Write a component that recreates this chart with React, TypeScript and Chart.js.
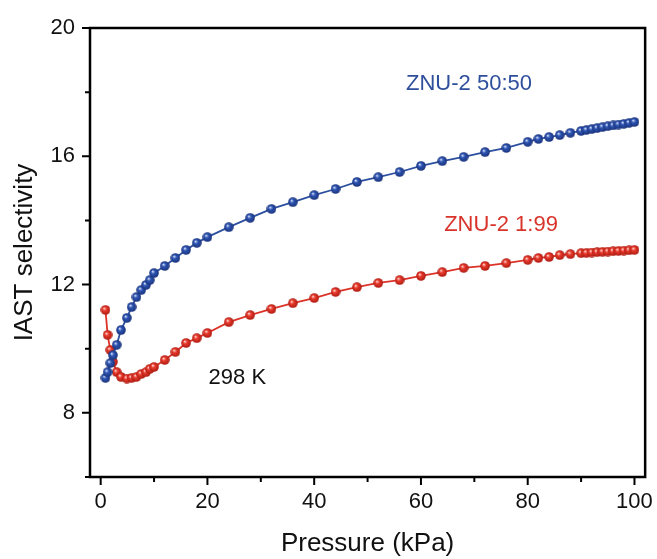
import React, { useEffect, useRef } from 'react';
import { Chart, registerables } from 'chart.js';

Chart.register(...registerables);

// ---- Data ----
const pressure = [
  0.9, 1.3, 1.8, 2.3, 3.0, 3.8, 4.9, 5.8, 6.7, 7.6, 8.5, 9.2, 10,
  12, 14, 16, 18, 20, 24, 28, 32, 36, 40, 44, 48, 52, 56, 60, 64, 68, 72, 76, 80,
  82, 84, 86, 88, 90, 91, 92, 93, 94, 95, 96, 97, 98, 99, 100,
];

const selectivity5050 = [
  9.09, 9.27, 9.55, 9.80, 10.12, 10.58, 10.96, 11.30, 11.61, 11.83, 11.99, 12.14, 12.36,
  12.58, 12.83, 13.08, 13.30, 13.48, 13.79, 14.08, 14.36, 14.57, 14.79, 14.98, 15.20, 15.35,
  15.51, 15.70, 15.85, 15.98, 16.13, 16.26, 16.45,
  16.54, 16.60, 16.66, 16.73, 16.79, 16.82, 16.85, 16.88, 16.91, 16.94, 16.96, 16.99, 17.01,
  17.04, 17.07,
];

const selectivity199 = [
  11.21, 10.43, 9.96, 9.59, 9.27, 9.12, 9.07, 9.09, 9.12, 9.21, 9.27, 9.37, 9.43,
  9.65, 9.90, 10.18, 10.33, 10.49, 10.83, 11.05, 11.24, 11.42, 11.58, 11.77, 11.92, 12.05,
  12.14, 12.27, 12.39, 12.52, 12.58, 12.67, 12.77,
  12.83, 12.86, 12.92, 12.95, 12.98, 12.99, 13.00, 13.01, 13.02, 13.03, 13.04, 13.05, 13.06,
  13.07, 13.08,
];

const seriesNames = ['ZNU-2 50:50', 'ZNU-2 1:99'];
const annotationText = '298 K';

const xMajorTicks = [0, 20, 40, 60, 80, 100];
const xMinorTicks = [10, 30, 50, 70, 90];
const yMajorTicks = [8, 12, 16, 20];
const yMinorTicks = [6, 10, 14, 18];

const FONT = '"Liberation Sans", Arial, Helvetica, sans-serif';
const BLUE = '#2c4f9f';
const RED = '#dc3329';

function makeSphere(base: string, light: string, dark: string, size: number) {
  const c = document.createElement('canvas');
  c.width = size;
  c.height = size;
  const ctx = c.getContext('2d')!;
  const r = size / 2;
  const g = ctx.createRadialGradient(r * 0.72, r * 0.68, r * 0.05, r, r, r);
  g.addColorStop(0, light);
  g.addColorStop(0.35, base);
  g.addColorStop(1, dark);
  ctx.fillStyle = g;
  ctx.beginPath();
  ctx.arc(r, r, r - 0.2, 0, Math.PI * 2);
  ctx.fill();
  return c;
}

export default function App() {
  const canvasRef = useRef<HTMLCanvasElement | null>(null);

  useEffect(() => {
    const canvas = canvasRef.current;
    if (!canvas) return;

    const blueSphere = makeSphere('#2d55b3', '#d5e0fa', '#1a3178', 10);
    const redSphere = makeSphere('#e93a2d', '#ffd6cf', '#aa1a10', 10);

    const framePlugin = {
      id: 'frame',
      afterDraw(chart: any) {
        const { ctx, chartArea } = chart;
        const { left, right, top, bottom } = chartArea;
        const xs = chart.scales.x;
        const ys = chart.scales.y;
        ctx.save();
        ctx.strokeStyle = '#000';
        ctx.lineJoin = 'miter';
        ctx.lineWidth = 2.5;
        ctx.strokeRect(left, top, right - left, bottom - top);
        ctx.lineWidth = 2;
        ctx.beginPath();
        xMajorTicks.forEach((v) => {
          const px = xs.getPixelForValue(v);
          ctx.moveTo(px, bottom);
          ctx.lineTo(px, bottom + 8);
        });
        xMinorTicks.forEach((v) => {
          const px = xs.getPixelForValue(v);
          ctx.moveTo(px, bottom);
          ctx.lineTo(px, bottom + 5);
        });
        yMajorTicks.forEach((v) => {
          const py = ys.getPixelForValue(v);
          ctx.moveTo(left, py);
          ctx.lineTo(left - 8, py);
        });
        yMinorTicks.forEach((v) => {
          const py = ys.getPixelForValue(v);
          ctx.moveTo(left, py);
          ctx.lineTo(left - 5, py);
        });
        ctx.stroke();

        ctx.font = `22px ${FONT}`;
        ctx.textAlign = 'center';
        ctx.textBaseline = 'middle';
        ctx.fillStyle = '#2e4f9c';
        ctx.fillText(seriesNames[0], xs.getPixelForValue(69.0), ys.getPixelForValue(18.25));
        ctx.fillStyle = '#d8342b';
        ctx.fillText(seriesNames[1], xs.getPixelForValue(75.0), ys.getPixelForValue(13.86));
        ctx.fillStyle = '#111';
        ctx.fillText(annotationText, xs.getPixelForValue(25.6), ys.getPixelForValue(9.09));
        ctx.restore();
      },
    };

    const chart = new Chart(canvas, {
      type: 'line',
      data: {
        datasets: [
          {
            label: seriesNames[0],
            data: pressure.map((p, i) => ({ x: p, y: selectivity5050[i] })),
            borderColor: BLUE,
            borderWidth: 1.8,
            pointStyle: blueSphere as any,
            pointRadius: 5,
            tension: 0,
          },
          {
            label: seriesNames[1],
            data: pressure.map((p, i) => ({ x: p, y: selectivity199[i] })),
            borderColor: RED,
            borderWidth: 1.8,
            pointStyle: redSphere as any,
            pointRadius: 5,
            tension: 0,
          },
        ],
      },
      options: {
        animation: false,
        responsive: false,
        devicePixelRatio: 1,
        layout: { padding: { top: 28, right: 9, left: 0, bottom: 0 } },
        plugins: {
          legend: { display: false },
          tooltip: { enabled: false },
        },
        scales: {
          x: {
            type: 'linear',
            min: -2,
            max: 102,
            afterBuildTicks: (s: any) => {
              s.ticks = xMajorTicks.map((v) => ({ value: v }));
            },
            afterFit: (s: any) => {
              s.height = 82;
            },
            grid: {
              display: true,
              drawOnChartArea: false,
              drawTicks: true,
              tickLength: 8,
              color: 'rgba(0,0,0,0)',
              tickColor: 'rgba(0,0,0,0)',
            },
            border: { display: false },
            ticks: {
              font: { family: FONT, size: 22 },
              color: '#111',
              padding: 4,
              maxRotation: 0,
              autoSkip: false,
            },
            title: {
              display: true,
              text: 'Pressure (kPa)',
              color: '#111',
              font: { family: FONT, size: 26 },
              padding: { top: 0, bottom: 0 },
            },
          },
          y: {
            type: 'linear',
            min: 6,
            max: 20,
            afterBuildTicks: (s: any) => {
              s.ticks = yMajorTicks.map((v) => ({ value: v }));
            },
            afterFit: (s: any) => {
              s.width = 90;
            },
            grid: {
              display: true,
              drawOnChartArea: false,
              drawTicks: true,
              tickLength: 8,
              color: 'rgba(0,0,0,0)',
              tickColor: 'rgba(0,0,0,0)',
            },
            border: { display: false },
            ticks: {
              font: { family: FONT, size: 22 },
              color: '#111',
              padding: 7,
            },
            title: {
              display: true,
              text: 'IAST selectivity',
              color: '#111',
              font: { family: FONT, size: 26 },
              padding: { top: 9, bottom: 0 },
            },
          },
        },
      },
      plugins: [framePlugin],
    } as any);

    return () => {
      chart.destroy();
    };
  }, []);

  return (
    <div style={{ position: 'fixed', left: 0, top: 0, width: 657, height: 559, background: '#fff' }}>
      <canvas ref={canvasRef} width={657} height={559} style={{ display: 'block' }} />
    </div>
  );
}
